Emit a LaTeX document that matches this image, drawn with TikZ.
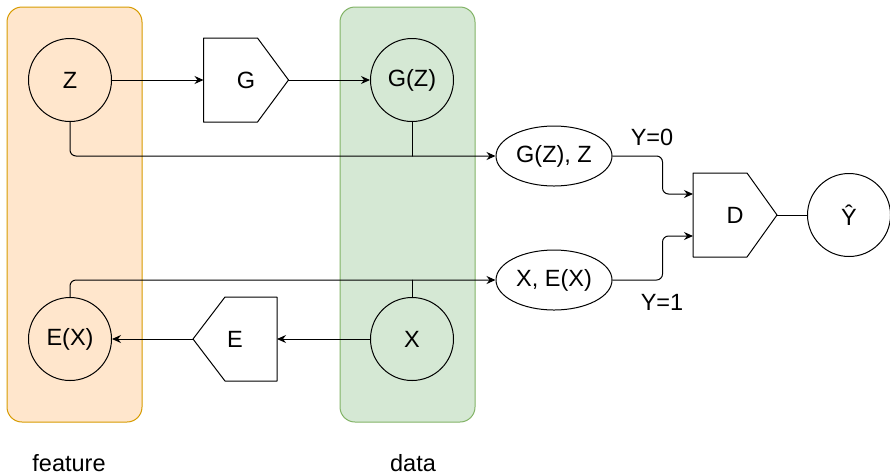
\documentclass[tikz,border=0pt]{standalone}
\usepackage{fontspec}
\setmainfont{Liberation Sans}
\usetikzlibrary{arrows.meta,calc,shapes.geometric}

\definecolor{featfill}{HTML}{FFE6CC}
\definecolor{featline}{HTML}{D79B00}
\definecolor{datafill}{HTML}{D5E8D4}
\definecolor{dataline}{HTML}{82B366}

\begin{document}
\begin{tikzpicture}[line width=1pt, line cap=round, line join=round, x=1pt, y=-1pt,
    font=\fontsize{23.5}{28}\selectfont,
    var/.style={circle, draw, minimum size=83pt, inner sep=0pt},
    pair/.style={ellipse, draw, fill=white, minimum width=116pt, minimum height=60pt, inner sep=0pt},
    block/.style={minimum width=84pt, minimum height=83pt, inner sep=0pt},
    arr/.style={-{Stealth[length=9pt, width=8pt, inset=3pt]}}]
  \useasboundingbox (0,0) rectangle (890,475);
  % The two groups behind the nodes.
  \draw[featline, fill=featfill, rounded corners=15pt] (7,7) rectangle (142,422);
  \draw[dataline, fill=datafill, rounded corners=15pt] (340,7) rectangle (475,422);
  \node (feat) at (69,463) {feature};
  \node (data) at (413,463) {data};
  % Generator path, top row.
  \node[var] (z) at (70,80) {Z};
  \node[block] (g) at (246,80) {G};
  \draw (g.north west) -- ([xshift=-31pt]g.north east) -- (g.east)
    -- ([xshift=-31pt]g.south east) -- (g.south west) -- cycle;
  \node[var] (gz) at (412,80) {G(Z)};
  % Encoder path, bottom row.
  \node[var] (ex) at (70,339) {E(X)};
  \node[block, minimum width=83pt] (e) at (235,339) {E};
  \draw (e.north east) -- ([xshift=32pt]e.north west) -- (e.west)
    -- ([xshift=32pt]e.south west) -- (e.south east) -- cycle;
  \node[var] (x) at (412,339) {X};
  % The pairs, the discriminator and its output.
  \node[pair] (gzz) at (554,156) {G(Z), Z};
  \node[pair] (xex) at (554,280) {X, E(X)};
  \node[block, minimum width=83pt] (d) at (735,215) {D};
  \draw (d.north west) -- ([xshift=-30pt]d.north east) -- (d.east)
    -- ([xshift=-30pt]d.south east) -- (d.south west) -- cycle;
  \node[var] (yhat) at (849,215) {Ŷ};
  \coordinate (din1) at ($(d.north west)!0.25!(d.south west)$);
  \coordinate (din2) at ($(d.north west)!0.75!(d.south west)$);
  % Connectors.
  \draw[arr] (z) -- (g.west);
  \draw[arr] (g.east) -- (gz);
  \draw[arr] (x) -- (e.east);
  \draw[arr] (e.west) -- (ex);
  \draw[arr, rounded corners=6pt] (z.south) |- (gzz.west);
  \draw (gz.south) -- (gz.south |- gzz.west);
  \draw[arr, rounded corners=6pt] (ex.north) |- (xex.west);
  \draw (x.north) -- (x.north |- xex.west);
  \draw[arr, rounded corners=6pt] (gzz.east) -- ++(50,0) |- (din1);
  \draw[arr, rounded corners=6pt] (xex.east) -- ++(50,0) |- (din2);
  \draw (d.east) -- (yhat);
  \node (y0) at (652,137) {Y=0};
  \node (y1) at (662,302) {Y=1};
\end{tikzpicture}
\end{document}
